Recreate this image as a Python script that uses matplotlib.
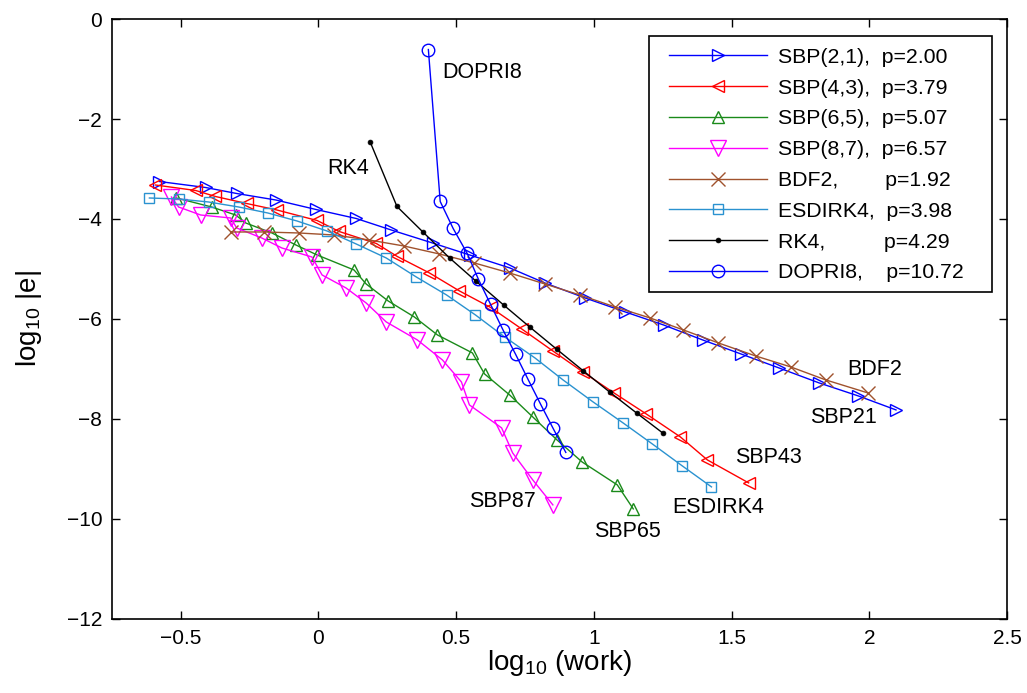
# work-precision diagram: log10 error vs log10 work
import matplotlib
matplotlib.use('Agg')
import matplotlib.pyplot as plt
from matplotlib.patches import Rectangle
import numpy as np

plt.rcParams['font.family'] = ['Liberation Sans', 'DejaVu Sans']
plt.rcParams['mathtext.default'] = 'regular'

# data (log10 work, log10 error)
sbp21_x = [-0.578, -0.410, -0.297, -0.155, -0.009, 0.137, 0.264, 0.414, 0.549, 0.695,
           0.822, 0.968, 1.114, 1.253, 1.395, 1.534, 1.672, 1.818, 1.960, 2.097]
sbp21_y = [-3.25, -3.37, -3.49, -3.62, -3.81, -3.99, -4.22, -4.48, -4.72, -4.98,
           -5.28, -5.58, -5.86, -6.12, -6.42, -6.70, -6.98, -7.28, -7.54, -7.82]

sbp43_x = [-0.592, -0.446, -0.374, -0.261, -0.151, -0.005, 0.075, 0.210, 0.286, 0.403,
           0.512, 0.625, 0.738, 0.851, 0.960, 1.073, 1.190, 1.314, 1.412, 1.562]
sbp43_y = [-3.32, -3.43, -3.55, -3.69, -3.82, -4.03, -4.25, -4.49, -4.75, -5.08,
           -5.44, -5.77, -6.20, -6.64, -7.06, -7.48, -7.90, -8.36, -8.82, -9.28]

sbp65_x = [-0.516, -0.388, -0.301, -0.264, -0.169, -0.082, -0.005, 0.129, 0.173, 0.253,
           0.348, 0.432, 0.559, 0.603, 0.694, 0.778, 0.866, 0.957, 1.085, 1.143]
sbp65_y = [-3.58, -3.76, -3.92, -4.08, -4.28, -4.52, -4.72, -5.02, -5.30, -5.64,
           -5.96, -6.32, -6.68, -7.10, -7.52, -7.96, -8.42, -8.86, -9.32, -9.80]

sbp87_x = [-0.534, -0.508, -0.428, -0.319, -0.297, -0.206, -0.133, -0.024, 0.013, 0.100,
           0.173, 0.246, 0.359, 0.450, 0.519, 0.548, 0.665, 0.705, 0.778, 0.851]
sbp87_y = [-3.56, -3.76, -3.92, -3.98, -4.18, -4.38, -4.58, -4.76, -5.12, -5.38,
           -5.68, -6.06, -6.42, -6.82, -7.26, -7.72, -8.18, -8.68, -9.22, -9.72]

bdf2_x = [-0.319, -0.199, -0.071, 0.056, 0.184, 0.310, 0.439, 0.566, 0.694, 0.822,
          0.949, 1.077, 1.204, 1.325, 1.452, 1.587, 1.715, 1.842, 1.995]
bdf2_y = [-4.26, -4.26, -4.28, -4.32, -4.42, -4.54, -4.70, -4.88, -5.08, -5.30,
          -5.52, -5.76, -5.98, -6.22, -6.48, -6.74, -6.96, -7.22, -7.48]

esdirk4_x = [-0.614, -0.508, -0.399, -0.290, -0.184, -0.078, 0.031, 0.137, 0.246, 0.355,
             0.465, 0.570, 0.676, 0.786, 0.888, 0.997, 1.106, 1.212, 1.321, 1.427]
esdirk4_y = [-3.58, -3.60, -3.66, -3.76, -3.88, -4.04, -4.24, -4.50, -4.78, -5.16,
             -5.52, -5.92, -6.36, -6.78, -7.22, -7.66, -8.08, -8.50, -8.94, -9.36]

rk4_x = [0.187, 0.285, 0.381, 0.476, 0.573, 0.672, 0.769, 0.866, 0.962, 1.059, 1.157, 1.252]
rk4_y = [-2.45, -3.75, -4.27, -4.78, -5.25, -5.72, -6.17, -6.61, -7.04, -7.47, -7.89, -8.29]

dopri8_x = [0.399, 0.442, 0.489, 0.540, 0.581, 0.625, 0.670, 0.716, 0.761, 0.806, 0.852, 0.898]
dopri8_y = [-0.61, -3.65, -4.19, -4.69, -5.21, -5.71, -6.22, -6.71, -7.21, -7.70, -8.19, -8.67]

labels = ['SBP(2,1),  p=2.00', 'SBP(4,3),  p=3.79', 'SBP(6,5),  p=5.07',
          'SBP(8,7),  p=6.57', 'BDF2,        p=1.92', 'ESDIRK4,  p=3.98',
          'RK4,          p=4.29', 'DOPRI8,    p=10.72']

xticks = [-0.5, 0, 0.5, 1, 1.5, 2, 2.5]
xticklabels = ['\u22120.5', '0', '0.5', '1', '1.5', '2', '2.5']
yticks = [-12, -10, -8, -6, -4, -2, 0]
yticklabels = ['\u221212', '\u221210', '\u22128', '\u22126', '\u22124', '\u22122', '0']

# colours
c_green = '#1A8A1A'
c_brown = '#A0522D'
c_lblue = '#2A92D0'
c_mag = '#FF00FF'

fig = plt.figure(figsize=(10.27, 6.93), dpi=100)
ax = fig.add_axes([0.109, 0.107, 0.8715, 0.8655])

lw = 1.0
ax.plot(sbp21_x, sbp21_y, '-', color='b', marker='>', ms=8, mfc='none', mew=1.0, lw=lw, label=labels[0])
ax.plot(sbp43_x, sbp43_y, '-', color='r', marker='<', ms=9, mfc='none', mew=1.0, lw=lw, label=labels[1])
ax.plot(sbp65_x, sbp65_y, '-', color=c_green, marker='^', ms=9, mfc='none', mew=1.0, lw=lw, label=labels[2])
ax.plot(sbp87_x, sbp87_y, '-', color=c_mag, marker='v', ms=12, mfc='none', mew=1.0, lw=lw, label=labels[3])
ax.plot(bdf2_x, bdf2_y, '-', color=c_brown, marker='x', ms=10, mew=1.0, lw=lw, label=labels[4])
ax.plot(esdirk4_x, esdirk4_y, '-', color=c_lblue, marker='s', ms=7, mfc='none', mew=1.0, lw=lw, label=labels[5])
ax.plot(rk4_x, rk4_y, '-', color='k', marker='o', ms=3.5, mfc='k', mew=0.5, lw=lw, label=labels[6])
ax.plot(dopri8_x, dopri8_y, '-', color='b', marker='o', ms=9, mfc='none', mew=1.0, lw=lw, label=labels[7])

# curve names
fs = 15.5
ax.text(0.45, -1.06, 'DOPRI8', fontsize=fs, va='center')
ax.text(0.108, -2.98, 'RK4', fontsize=fs, va='center', ha='center')
ax.text(2.02, -7.02, 'BDF2', fontsize=fs, va='center', ha='center')
ax.text(1.905, -7.98, 'SBP21', fontsize=fs, va='center', ha='center')
ax.text(1.635, -8.78, 'SBP43', fontsize=fs, va='center', ha='center')
ax.text(1.453, -9.78, 'ESDIRK4', fontsize=fs, va='center', ha='center')
ax.text(1.121, -10.26, 'SBP65', fontsize=fs, va='center', ha='center')
ax.text(0.669, -9.66, 'SBP87', fontsize=fs, va='center', ha='center')

# axes
ax.set_xlim(-0.75, 2.5)
ax.set_ylim(-12, 0)
ax.set_xticks(xticks)
ax.set_xticklabels(xticklabels)
ax.set_yticks(yticks)
ax.set_yticklabels(yticklabels)
ax.tick_params(direction='in', top=True, right=True, length=6, width=1, labelsize=15, pad=7)
for s in ax.spines.values():
    s.set_linewidth(1.2)

ax.set_xlabel(r'log$_{10}$ (work)', fontsize=20, labelpad=0)
ax.set_ylabel(r'log$_{10}$ |e|', fontsize=20, labelpad=16)

# legend box drawn separately so the padding can match
box = Rectangle((0.600, 0.545), 0.383, 0.427, transform=ax.transAxes,
                facecolor='white', edgecolor='k', lw=1.2, zorder=4)
ax.add_patch(box)
leg = ax.legend(loc='upper left', bbox_to_anchor=(0.6223, 0.952), borderaxespad=0,
                numpoints=1, fontsize=15.3, handlelength=4.6, labelspacing=0.555,
                frameon=False, borderpad=0, handletextpad=0.55)
leg.set_zorder(5)

plt.savefig('out.png', dpi=100)
